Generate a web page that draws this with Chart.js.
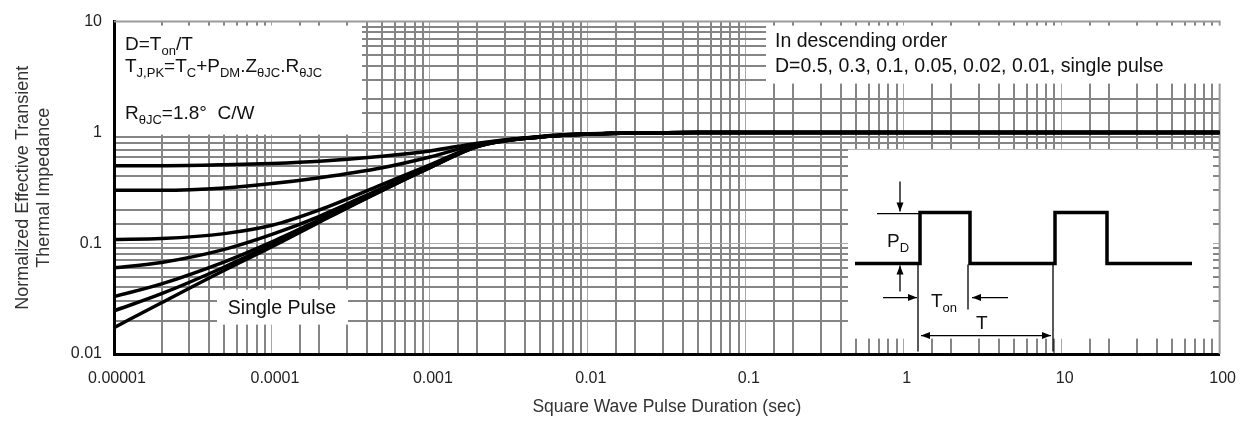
<!DOCTYPE html>
<html>
<head>
<meta charset="utf-8">
<script src="https://cdn.jsdelivr.net/npm/chart.js@4.4.1/dist/chart.umd.min.js"></script>
<style>
  html, body { margin: 0; padding: 0; background: #fff; }
</style>
</head>
<body>
<canvas id="myChart" width="1248" height="428"></canvas>
<script>
const pulseTimes = [1e-5, 2e-5, 5e-5, 1e-4, 2e-4, 5e-4, 1e-3, 2e-3, 5e-3, 1e-2, 2e-2, 5e-2, 0.1, 1, 10, 100]

// normalized transient thermal impedance, one list per duty cycle
const dutyLabels = ['D=0.5', 'D=0.3', 'D=0.1', 'D=0.05', 'D=0.02', 'D=0.01', 'single pulse']
const zthD050 = [0.50, 0.50, 0.51, 0.525, 0.55, 0.61, 0.68, 0.80, 0.92, 0.97, 0.99, 1.0, 1.0, 1.0, 1.0, 1.0]
const zthD030 = [0.30, 0.30, 0.315, 0.345, 0.39, 0.48, 0.60, 0.78, 0.915, 0.97, 0.99, 1.0, 1.0, 1.0, 1.0, 1.0]
const zthD010 = [0.108, 0.110, 0.122, 0.145, 0.20, 0.34, 0.51, 0.76, 0.91, 0.965, 0.99, 1.0, 1.0, 1.0, 1.0, 1.0]
const zthD005 = [0.060, 0.067, 0.088, 0.120, 0.175, 0.315, 0.49, 0.755, 0.91, 0.965, 0.99, 1.0, 1.0, 1.0, 1.0, 1.0]
const zthD002 = [0.033, 0.043, 0.068, 0.103, 0.163, 0.305, 0.485, 0.75, 0.91, 0.965, 0.99, 1.0, 1.0, 1.0, 1.0, 1.0]
const zthD001 = [0.0245, 0.035, 0.061, 0.097, 0.158, 0.30, 0.48, 0.745, 0.91, 0.965, 0.99, 1.0, 1.0, 1.0, 1.0, 1.0]
const zthSingle = [0.0173, 0.029, 0.057, 0.093, 0.155, 0.30, 0.48, 0.745, 0.91, 0.965, 0.99, 1.0, 1.0, 1.0, 1.0, 1.0]

const xTickLabels = ['0.00001', '0.0001', '0.001', '0.01', '0.1', '1', '10', '100']
const yTickLabels = ['0.01', '0.1', '1', '10']

const FONT = '"Liberation Sans", Arial, sans-serif'
Chart.defaults.font.family = FONT

const isDecade = v => Math.abs(Math.log10(v) - Math.round(Math.log10(v))) < 1e-6
const gridColor = c => (c.tick && isDecade(c.tick.value)) ? '#a8a8a8' : '#858585'
const gridWidth = c => (c.tick && isDecade(c.tick.value)) ? 1 : 2

const series = [zthD050, zthD030, zthD010, zthD005, zthD002, zthD001, zthSingle]

// text with subscripts: parts are strings or {sub: '...'}
function drawRich(ctx, x, y, parts, size) {
  parts.forEach(p => {
    const sub = typeof p !== 'string'
    const txt = sub ? p.sub : p
    ctx.font = (sub ? Math.round(size * 0.68) : size) + 'px ' + FONT
    ctx.fillText(txt, x, sub ? y + Math.round(size * 0.28) : y)
    x += ctx.measureText(txt).width
  })
}

function arrow(ctx, x1, y1, x2, y2) {
  const a = Math.atan2(y2 - y1, x2 - x1)
  ctx.beginPath()
  ctx.moveTo(x1, y1)
  ctx.lineTo(x2, y2)
  ctx.stroke()
  ctx.beginPath()
  ctx.moveTo(x2, y2)
  ctx.lineTo(x2 - 9 * Math.cos(a) + 3.5 * Math.sin(a), y2 - 9 * Math.sin(a) - 3.5 * Math.cos(a))
  ctx.lineTo(x2 - 9 * Math.cos(a) - 3.5 * Math.sin(a), y2 - 9 * Math.sin(a) + 3.5 * Math.cos(a))
  ctx.closePath()
  ctx.fill()
}

const notes = {
  id: 'notes',
  beforeDatasetsDraw(chart) {
    const ctx = chart.ctx
    const ca = chart.chartArea
    ctx.save()
    // top / right frame
    ctx.strokeStyle = '#9a9a9a'
    ctx.lineWidth = 2
    ctx.beginPath()
    ctx.moveTo(ca.left, ca.top)
    ctx.lineTo(ca.right, ca.top)
    ctx.lineTo(ca.right, ca.bottom)
    ctx.stroke()
    // white label boxes
    ctx.fillStyle = '#fff'
    ctx.fillRect(ca.left + 2, ca.top + 4, 246, 109)
    ctx.fillRect(ca.left + 652, ca.top + 4, 456, 58)
    ctx.fillRect(ca.left + 103, ca.top + 268, 131, 35)
    ctx.fillRect(ca.left + 734, ca.top + 128, 365, 189)
    ctx.restore()
  },
  afterDatasetsDraw(chart) {
    const ctx = chart.ctx
    const ca = chart.chartArea
    ctx.save()
    ctx.fillStyle = '#111'
    ctx.textBaseline = 'alphabetic'
    ctx.textAlign = 'left'

    const lx = ca.left + 11
    drawRich(ctx, lx, ca.top + 28, ['D=T', {sub: 'on'}, '/T'], 19)
    drawRich(ctx, lx, ca.top + 50, ['T', {sub: 'J,PK'}, '=T', {sub: 'C'}, '+P', {sub: 'DM'}, '.Z', {sub: '\u03b8JC'}, '.R', {sub: '\u03b8JC'}], 19)
    drawRich(ctx, lx, ca.top + 97, ['R', {sub: '\u03b8JC'}, '=1.8\u00b0  C/W'], 19)

    ctx.font = '19.5px ' + FONT
    ctx.fillText('In descending order', ca.left + 661, ca.top + 25)
    ctx.fillText('D=0.5, 0.3, 0.1, 0.05, 0.02, 0.01, single pulse', ca.left + 661, ca.top + 50)

    ctx.textAlign = 'center'
    ctx.fillText('Single Pulse', ca.left + 168, ca.top + 292)

    // inset: duty-cycle waveform
    const ox = ca.left + 734
    const oy = ca.top + 128
    ctx.translate(ox, oy)
    ctx.strokeStyle = '#000'
    ctx.fillStyle = '#000'
    ctx.lineWidth = 3.5
    ctx.lineJoin = 'miter'
    ctx.beginPath()
    ctx.moveTo(7, 114)
    ctx.lineTo(72, 114)
    ctx.lineTo(72, 63)
    ctx.lineTo(122, 63)
    ctx.lineTo(122, 114)
    ctx.lineTo(207, 114)
    ctx.lineTo(207, 63)
    ctx.lineTo(259, 63)
    ctx.lineTo(259, 114)
    ctx.lineTo(344, 114)
    ctx.stroke()

    ctx.lineWidth = 1.3
    ctx.beginPath()
    ctx.moveTo(29, 64); ctx.lineTo(72, 64)
    ctx.moveTo(70, 114); ctx.lineTo(70, 202)
    ctx.moveTo(120, 115); ctx.lineTo(120, 160)
    ctx.moveTo(205, 115); ctx.lineTo(205, 202)
    ctx.stroke()

    arrow(ctx, 52, 32, 52, 62)
    arrow(ctx, 52, 142, 52, 116)
    arrow(ctx, 35, 148, 69, 148)
    arrow(ctx, 160, 148, 124, 148)
    arrow(ctx, 138, 186, 73, 186)
    arrow(ctx, 138, 186, 203, 186)

    ctx.textAlign = 'left'
    ctx.fillStyle = '#111'
    drawRich(ctx, 39, 97, ['P', {sub: 'D'}], 19)
    drawRich(ctx, 83, 157, ['T', {sub: 'on'}], 19)
    drawRich(ctx, 128, 179, ['T'], 19)
    ctx.restore()
  }
}

const ctx = document.getElementById('myChart').getContext('2d')
const myChart = new Chart(ctx, {
  type: 'line',
  data: {
    datasets: series.map((vals, i) => ({
      label: dutyLabels[i],
      data: pulseTimes.map((t, j) => ({x: t, y: vals[j]})),
      borderColor: '#000',
      borderWidth: 3.5,
      pointRadius: 0,
      fill: false,
      cubicInterpolationMode: 'monotone'
    }))
  },
  options: {
    responsive: false,
    animation: false,
    layout: {
      padding: {top: 15, right: 23, left: 0, bottom: 0}
    },
    plugins: {
      legend: {display: false},
      tooltip: {enabled: false}
    },
    scales: {
      x: {
        type: 'logarithmic',
        min: 1e-5,
        max: 100,
        afterFit: s => { s.height = 74 },
        border: {color: '#000', width: 3},
        grid: {color: gridColor, lineWidth: gridWidth, drawTicks: false},
        ticks: {
          autoSkip: false,
          maxRotation: 0,
          padding: 15,
          labelOffset: 3,
          color: '#222',
          font: {size: 16},
          callback: v => isDecade(v) ? xTickLabels[Math.round(Math.log10(v)) + 5] : ''
        },
        title: {
          display: true,
          text: 'Square Wave Pulse Duration (sec)',
          color: '#333',
          font: {size: 17.5},
          padding: {top: 0, bottom: 10}
        }
      },
      y: {
        type: 'logarithmic',
        min: 0.01,
        max: 10,
        afterFit: s => { s.width = 114 },
        border: {color: '#000', width: 3},
        grid: {color: gridColor, lineWidth: gridWidth, drawTicks: false},
        ticks: {
          autoSkip: false,
          padding: 12,
          color: '#222',
          font: {size: 16},
          callback: v => isDecade(v) ? yTickLabels[Math.round(Math.log10(v)) + 2] : ''
        },
        title: {
          display: true,
          text: ['Normalized Effective Transient', 'Thermal Impedance'],
          color: '#333',
          font: {size: 18},
          lineHeight: 1.1,
          padding: {top: 12, bottom: 0}
        }
      }
    }
  },
  plugins: [notes]
})
</script>
</body>
</html>
